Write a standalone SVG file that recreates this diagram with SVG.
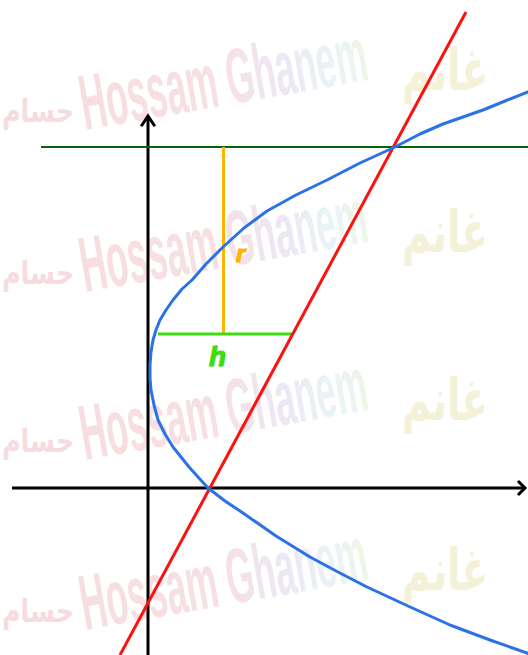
<svg xmlns="http://www.w3.org/2000/svg" xmlns:xlink="http://www.w3.org/1999/xlink" width="528" height="655" viewBox="0 0 528 655">
<defs>
<linearGradient id="wmGrad" x1="0" y1="0" x2="1" y2="0">
<stop offset="0" stop-color="#f2c3c8"/>
<stop offset="0.5" stop-color="#f0c8cf"/>
<stop offset="0.72" stop-color="#dcd6ee"/>
<stop offset="0.88" stop-color="#d7ecf2"/>
<stop offset="1" stop-color="#e2efcf"/>
</linearGradient>
<g id="wm">
<text x="85" y="0" class="wmLatin" textLength="290" lengthAdjust="spacingAndGlyphs" transform="rotate(-10 85 0)">Hossam Ghanem</text>
<text x="2" y="-8" class="wmAr1" textLength="72" lengthAdjust="spacingAndGlyphs">حسام</text>
<text x="402" y="-40" class="wmAr2" textLength="86" lengthAdjust="spacingAndGlyphs">غانم</text>
</g>
<style>
.wmLatin{font-family:"Liberation Sans Narrow","Liberation Sans",sans-serif;font-weight:bold;font-size:78px;fill:url(#wmGrad);opacity:0.55}
.wmAr1{font-family:"DejaVu Sans","Noto Sans",sans-serif;font-weight:bold;font-size:32px;fill:#f3c6ca;opacity:0.6}
.wmAr2{font-family:"DejaVu Sans","Noto Sans",sans-serif;font-weight:bold;font-size:58px;fill:#efeac4;opacity:0.65}
.axis{stroke:#000;stroke-width:3;fill:none}
.head{stroke:#000;stroke-width:3;fill:none;stroke-linecap:square}
.lbl{font-family:"Liberation Sans",sans-serif;font-weight:bold;font-style:italic;stroke-width:1.2}
</style>
</defs>
<rect width="528" height="655" fill="#ffffff"/>
<g id="watermark">
<use xlink:href="#wm" href="#wm" y="130"/>
<use xlink:href="#wm" href="#wm" y="292"/>
<use xlink:href="#wm" href="#wm" y="460"/>
<use xlink:href="#wm" href="#wm" y="630"/>
</g>
<g id="connectors">
<g id="x-axis">
<line class="axis" x1="12" y1="488" x2="525" y2="488"/>
<polyline class="head" points="519,482 525,488 519,494"/>
</g>
<g id="y-axis">
<line class="axis" x1="148" y1="655" x2="148" y2="116"/>
<polyline class="head" points="142,125 148,116 154,125"/>
</g>
<line id="top-line" x1="41" y1="147" x2="528" y2="147" stroke="#0b600b" stroke-width="2"/>
<line id="r-segment" x1="223.5" y1="147" x2="223.5" y2="334" stroke="#ffb400" stroke-width="3"/>
<line id="h-segment" x1="158" y1="334" x2="292" y2="334" stroke="#3ddc11" stroke-width="3"/>
<line id="red-line" x1="120" y1="655" x2="466" y2="12" stroke="#ff1010" stroke-width="3"/>
<polyline id="parabola" fill="none" stroke="#2a72e6" stroke-width="3" stroke-linejoin="round" points="530,91 505,101 483,110 463,117 443,124 420,134 395,147 360,163 327,180 296,195 267,211 244,228 223,247 206,264 192,280 182,289 173,300 166,310 160,320 156,330 153,340 151,352 150,365 150,378 151,390 154,405 158,420 165,434 173,447 189,467 208,488 225,501 243,513 276,536 310,557 338,572 367,587 408,606 450,625 490,640 530,654"/>
</g>
<g id="label-r"><text class="lbl" x="236" y="262" font-size="24" fill="#ffb400" stroke="#ffb400">r</text></g>
<g id="label-h"><text class="lbl" x="209" y="366" font-size="28" fill="#3ddc11" stroke="#3ddc11">h</text></g>
</svg>
